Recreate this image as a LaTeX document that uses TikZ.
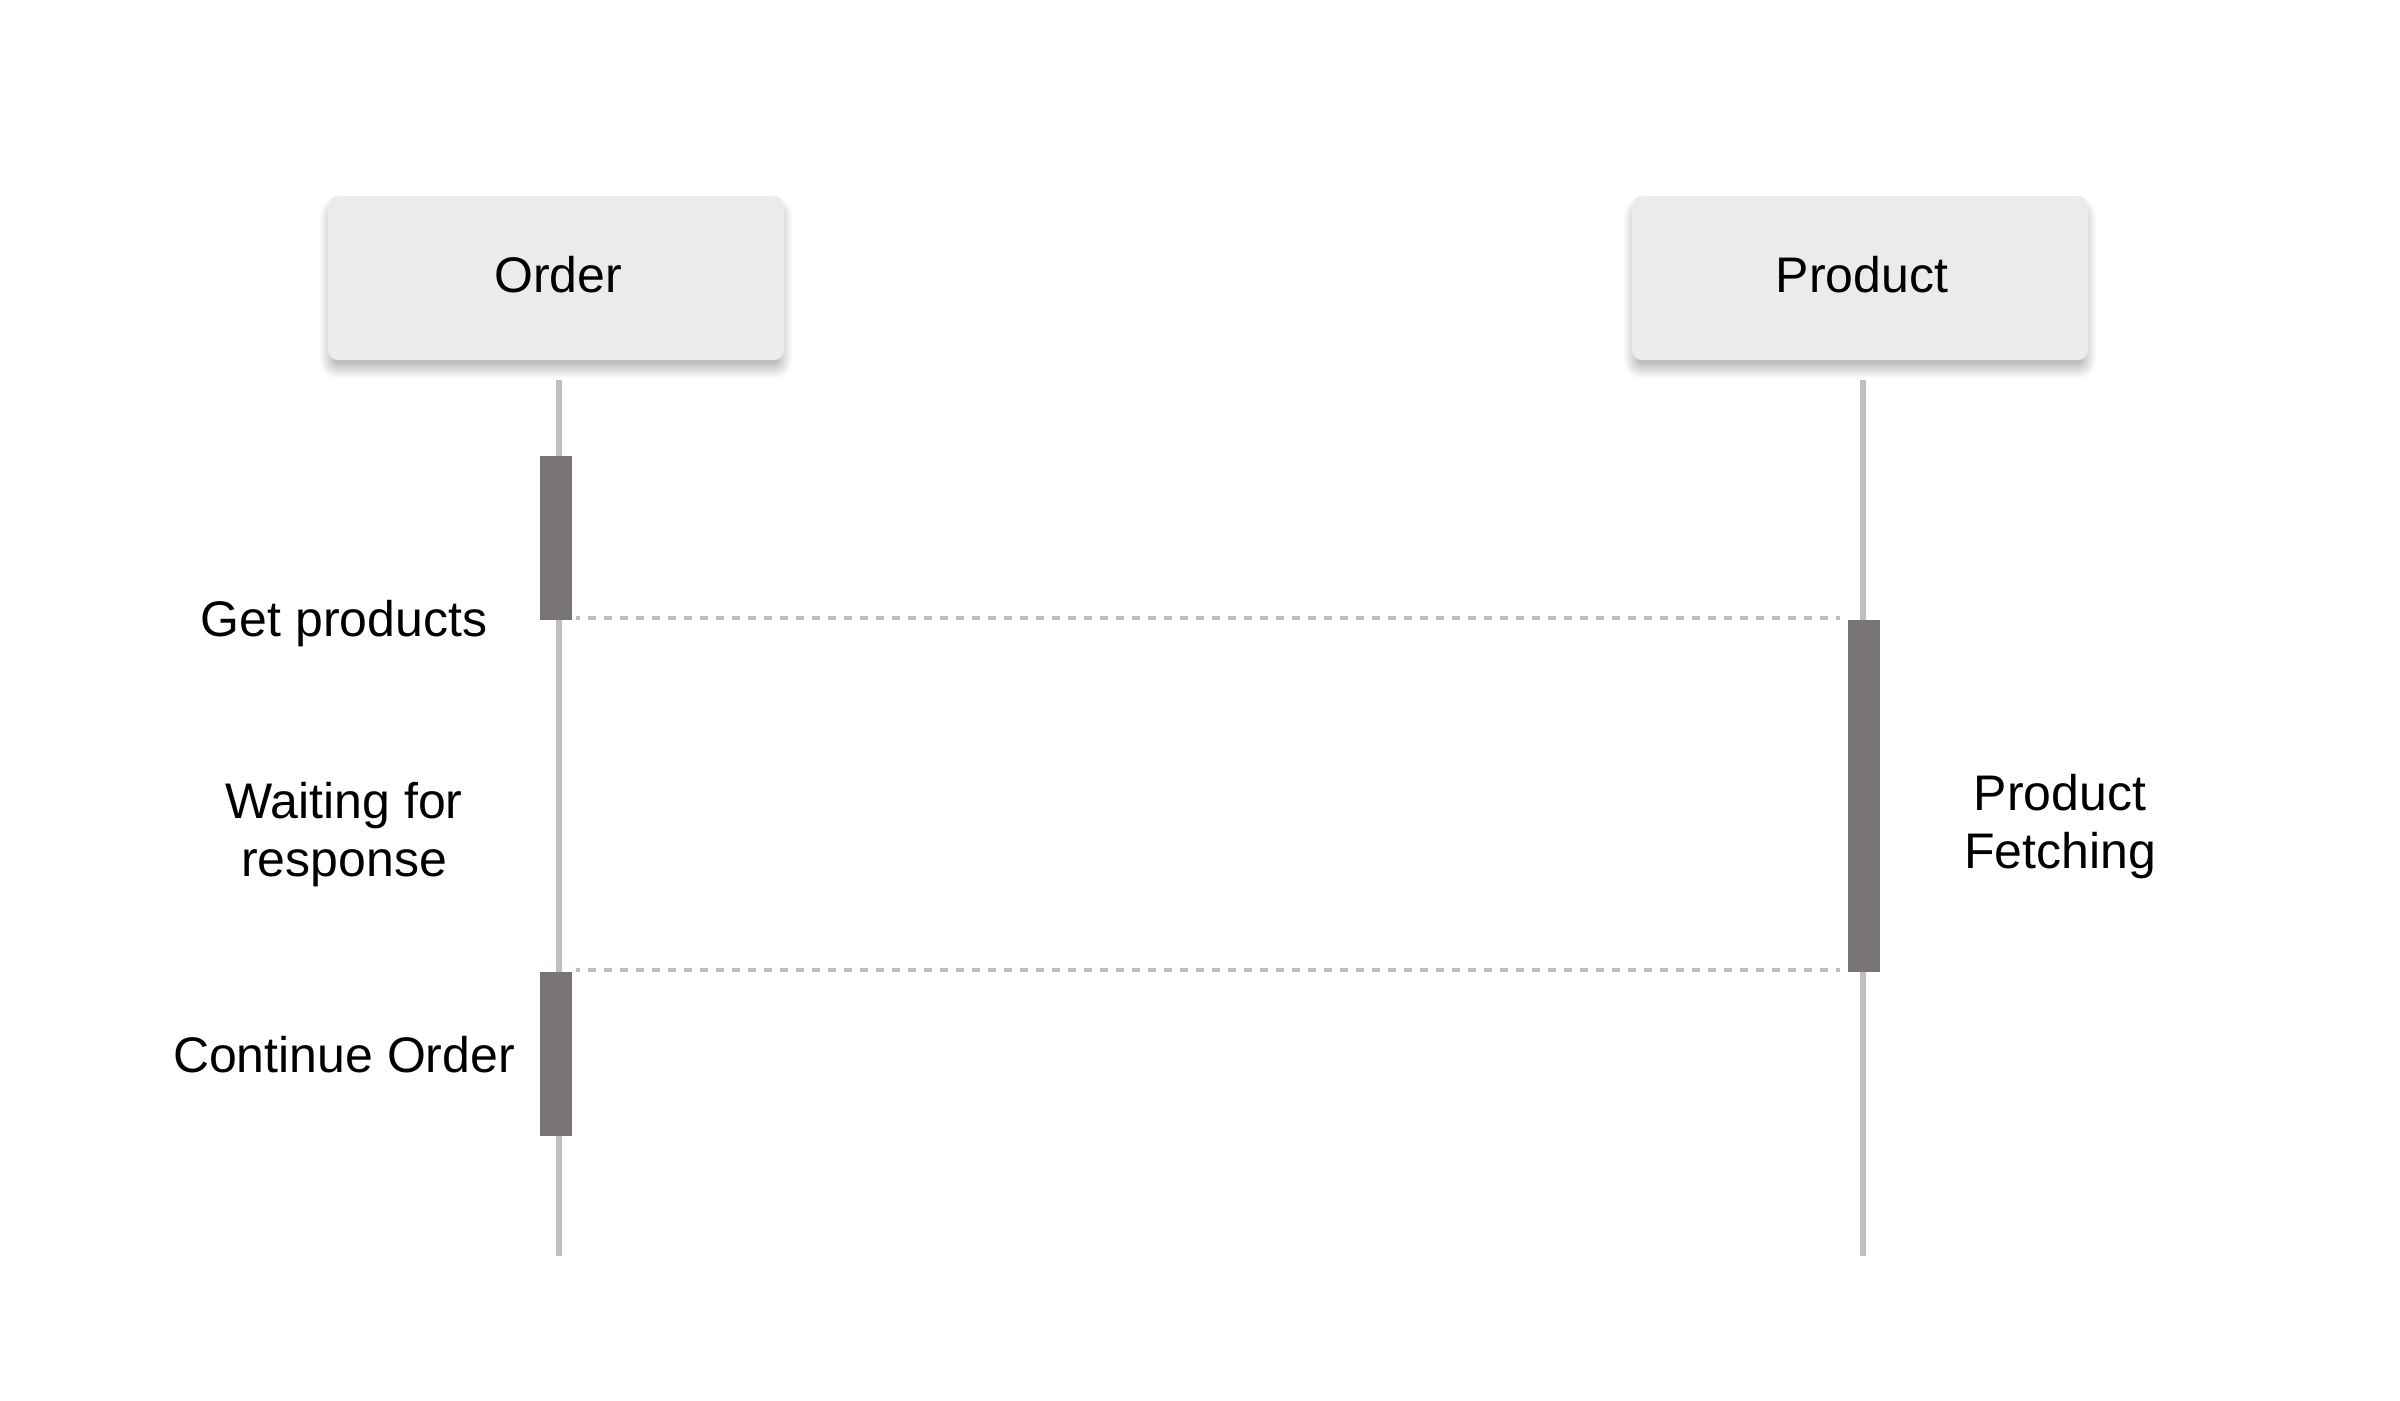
\documentclass[tikz,border=0pt]{standalone}
\usepackage{fontspec}
\setmainfont{Liberation Sans}
\usetikzlibrary{calc}
\pgfdeclarelayer{bg}
\pgfsetlayers{bg,main}
\definecolor{boxfill}{HTML}{ECEAEB}
\definecolor{lifeline}{HTML}{C3BEBE}
\definecolor{barfill}{HTML}{797576}
\tikzset{
  actor/.style={rectangle, rounded corners=10pt, fill=boxfill, minimum width=456pt, minimum height=164pt, inner sep=0pt},
  shadowlayer/.style={fill=black, opacity=0.017},
  lifel/.style={draw=lifeline, line width=6pt},
  actbar/.style={rectangle, fill=barfill, inner sep=0pt, minimum width=32pt},
  msg/.style={draw=lifeline, line width=4pt, dash pattern=on 8pt off 8pt, dash phase=4pt},
  lbl/.style={font=\fontsize{50}{58}\selectfont, align=center, inner sep=0pt, text=black}
}
\begin{document}
\begin{tikzpicture}[x=1pt, y=-1pt]
\useasboundingbox (0,0) rectangle (2400,1400);
% actors
\node[actor] (order) at (556,278) {};
\node[lbl, anchor=base] (orderlbl) at (558,292) {Order};
\node[actor] (product) at (1860,278) {};
\node[lbl, anchor=base] (productlbl) at (1862,292) {Product};
\begin{pgfonlayer}{bg}
\fill[white] (0,0) rectangle (2400,1400);
\foreach \nm in {order,product}{
  \foreach \s in {-8,...,8}{
    \pgfmathsetmacro\rr{max(1,10+\s)}
    \fill[shadowlayer, rounded corners=\rr pt] ($(\nm.south west)+(-\s,10+\s)$) rectangle ($(\nm.north east)+(\s,10-\s)$);
  }
}
\end{pgfonlayer}
% lifelines
\coordinate (otop) at (559,380);
\coordinate (obot) at (559,1256);
\coordinate (ptop) at (1863,380);
\coordinate (pbot) at (1863,1256);
\draw[lifel] (otop) -- (obot);
\draw[lifel] (ptop) -- (pbot);
% activation bars
\node[actbar, minimum height=164pt] (ob1) at (556,538) {};
\node[actbar, minimum height=352pt] (pb) at (1864,796) {};
\node[actbar, minimum height=164pt] (ob2) at (556,1054) {};
% messages
\coordinate (m1s) at (576,618);
\coordinate (m1e) at (1840,618);
\coordinate (m2s) at (576,970);
\coordinate (m2e) at (1840,970);
\draw[msg] (m1s) -- (m1e);
\draw[msg] (m2s) -- (m2e);
% labels
\node[lbl, anchor=base] (get) at (344,636) {Get products};
\node[lbl, anchor=base] (wait) at (344,876) {Waiting for\\response};
\node[lbl, anchor=base] (cont) at (344,1072) {Continue Order};
\node[lbl, anchor=base] (fetch) at (2060,868) {Product\\Fetching};
\end{tikzpicture}
\end{document}
